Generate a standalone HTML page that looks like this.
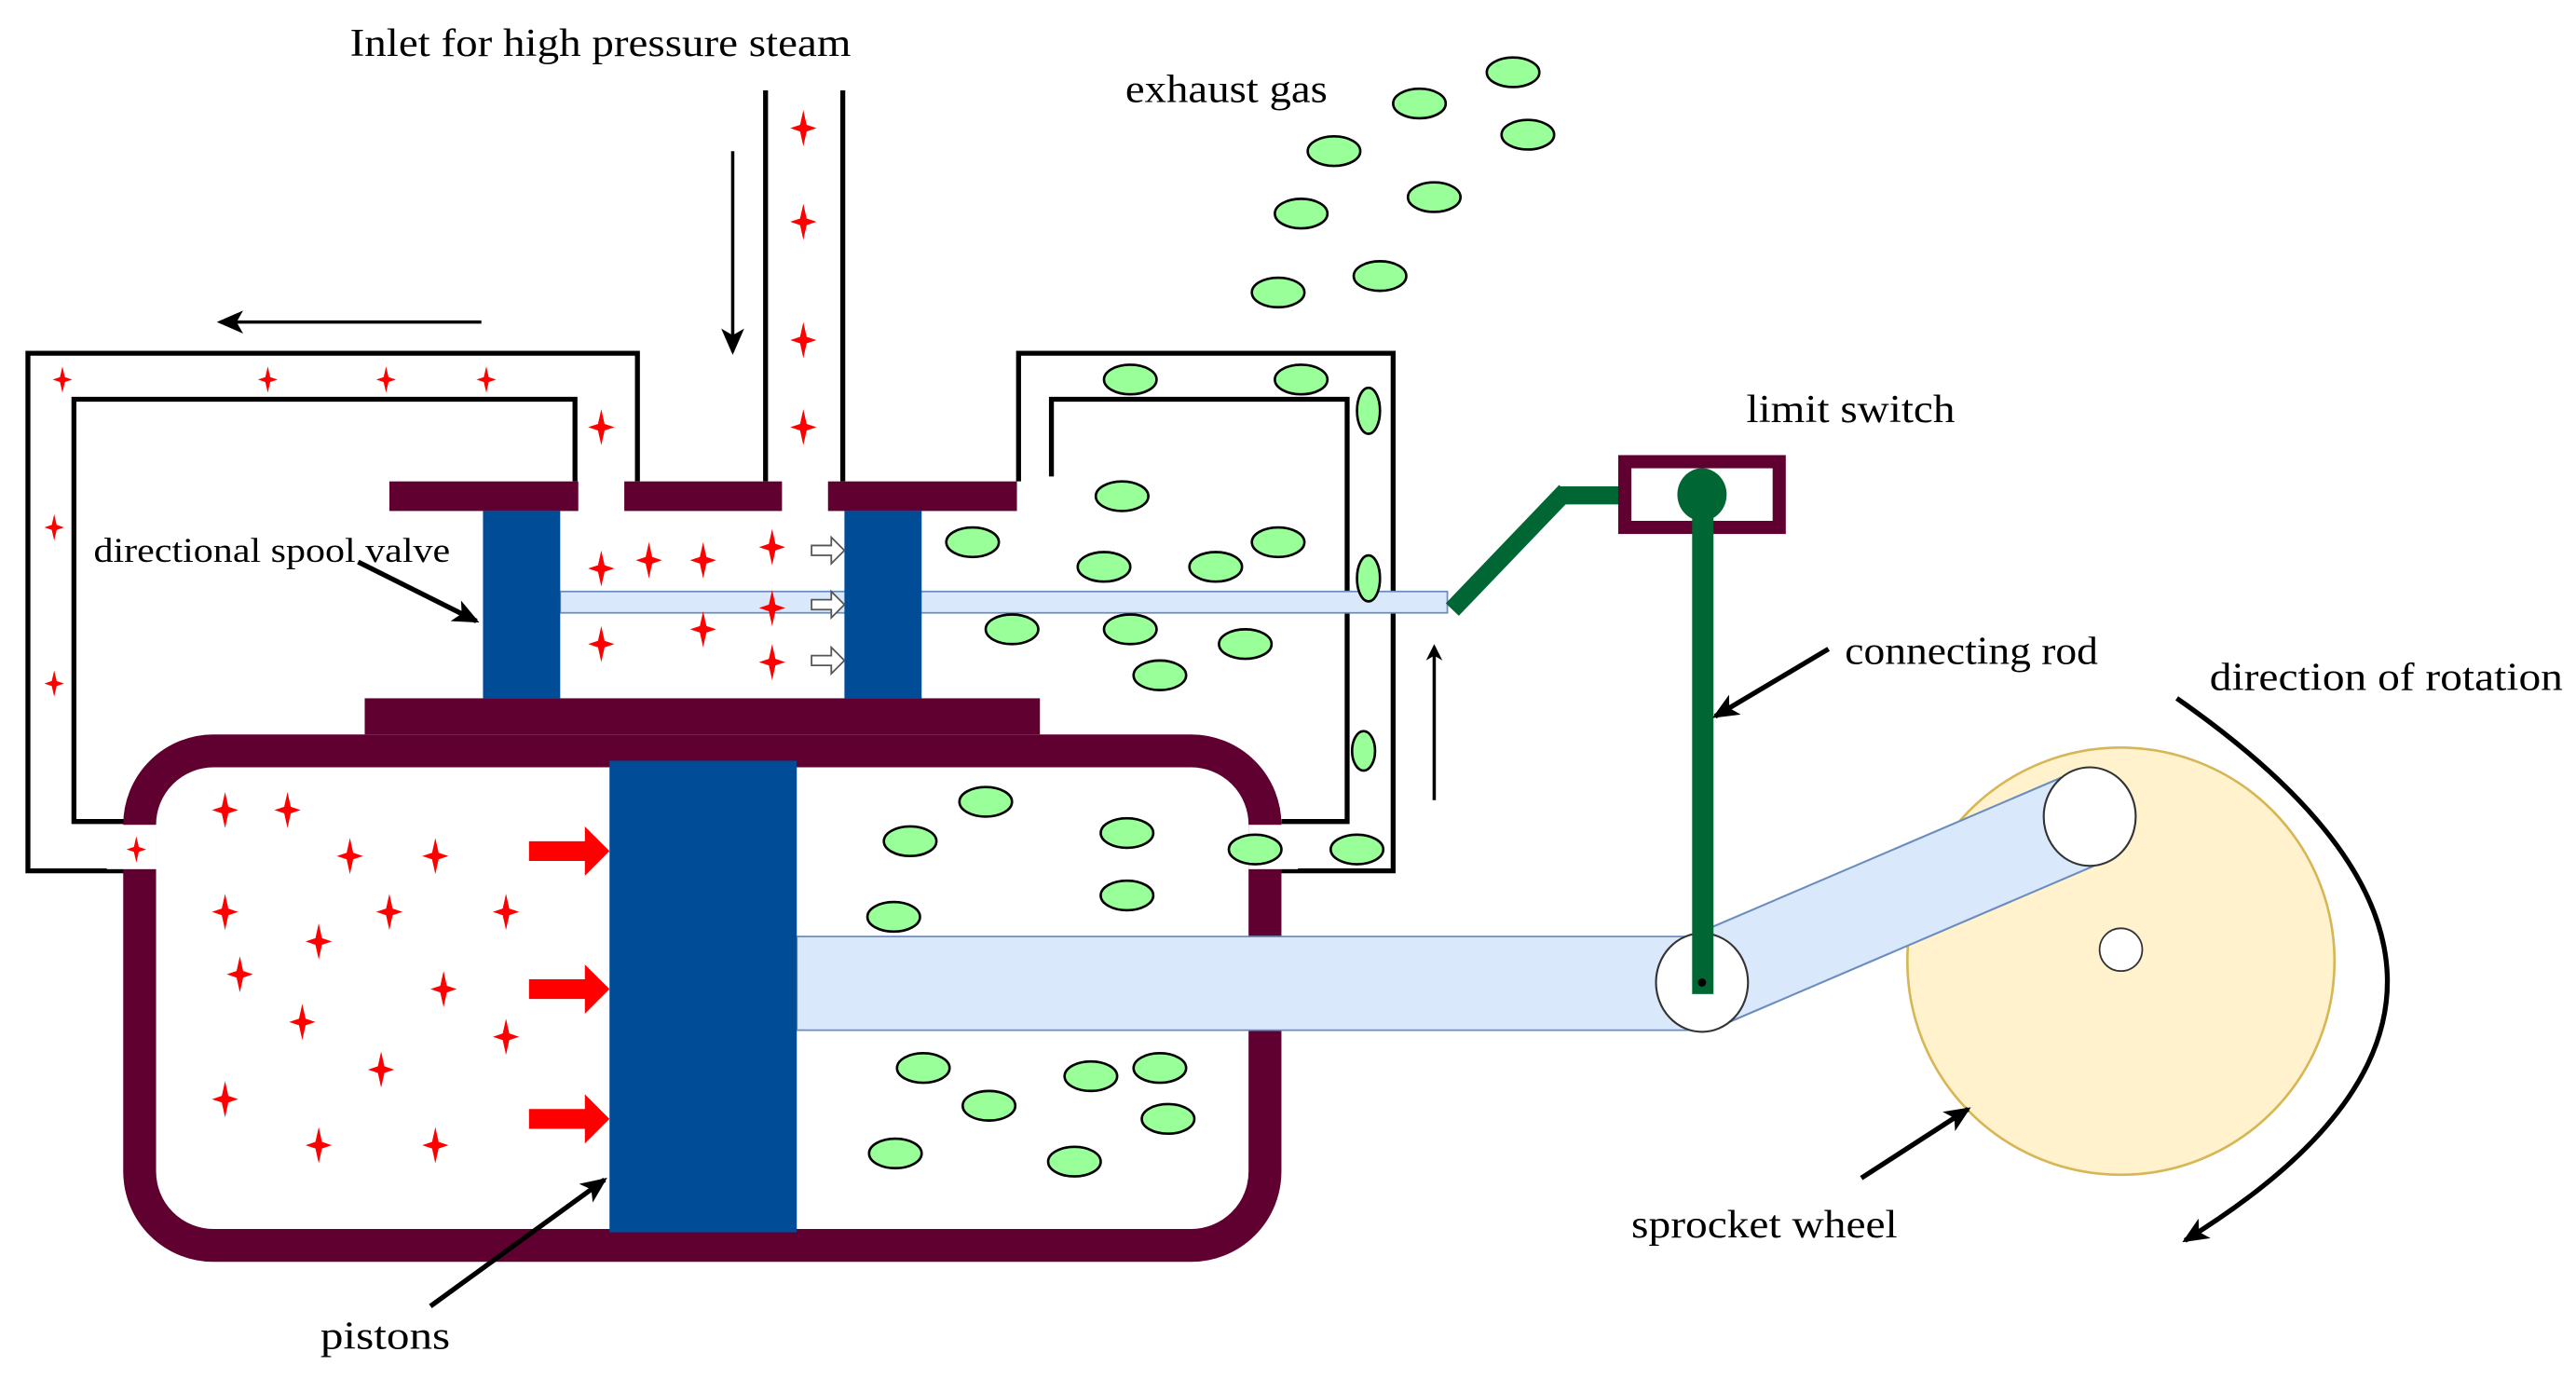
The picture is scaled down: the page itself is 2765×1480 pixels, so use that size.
<!DOCTYPE html>
<html><head><meta charset="utf-8"><style>
html,body{margin:0;padding:0;background:#fff}
svg{display:block}
text{font-family:"Liberation Serif",serif;font-size:24px;fill:#000}
</style></head><body>
<svg width="2765" height="1480" viewBox="0 0 1568 839.3" preserveAspectRatio="none" xmlns="http://www.w3.org/2000/svg">
<defs>
<marker id="ah" markerWidth="10" markerHeight="10" refX="8" refY="5" orient="auto" markerUnits="userSpaceOnUse"><path d="M0,0 L10,5 L0,10 L3,5 Z" fill="#000"/></marker>
<marker id="ah2" markerWidth="16" markerHeight="14" refX="14" refY="7" orient="auto" markerUnits="userSpaceOnUse"><path d="M0,0 L16,7 L0,14 L4,7 Z" fill="#000"/></marker>
<g id="st"><path d="M0,-11 L2,-2 L8,0 L2,2 L0,11 L-2,2 L-8,0 L-2,-2 Z" fill="#ff0000"/></g>
<g id="sts"><path d="M0,-8 L1.5,-1.5 L6,0 L1.5,1.5 L0,8 L-1.5,1.5 L-6,0 L-1.5,-1.5 Z" fill="#ff0000"/></g>
</defs>
<!-- labels -->
<text x="213" y="34" textLength="305" lengthAdjust="spacingAndGlyphs">Inlet for high pressure steam</text>
<text x="685" y="62" textLength="123" lengthAdjust="spacingAndGlyphs">exhaust gas</text>
<text x="1063" y="257" textLength="127" lengthAdjust="spacingAndGlyphs">limit switch</text>
<text x="57" y="342" style="font-size:21px" textLength="217" lengthAdjust="spacingAndGlyphs">directional spool valve</text>
<text x="1123" y="404" textLength="154" lengthAdjust="spacingAndGlyphs">connecting rod</text>
<text x="1345" y="420" textLength="215" lengthAdjust="spacingAndGlyphs">direction of rotation</text>
<text x="993" y="753" textLength="162" lengthAdjust="spacingAndGlyphs">sprocket wheel</text>
<text x="195" y="821" textLength="79" lengthAdjust="spacingAndGlyphs">pistons</text>
<!-- pipes -->
<g stroke="#000" stroke-width="3" fill="none">
<line x1="466" y1="55" x2="466" y2="293"/><line x1="513" y1="55" x2="513" y2="293"/>
<polyline points="388,293 388,215 17,215 17,530 95,530"/>
<polyline points="350,293 350,243 45,243 45,500 95,500"/>
<polyline points="620,293 620,215 848,215 848,530 780,530"/>
<polyline points="640,290 640,243 820,243 820,500 780,500"/>
</g>
<g stroke="#000" stroke-width="2" fill="none">
<line x1="446" y1="92" x2="446" y2="214" marker-end="url(#ah2)"/>
<line x1="293" y1="196" x2="134" y2="196" marker-end="url(#ah2)"/>
<line x1="873" y1="487" x2="873" y2="394" marker-end="url(#ah)"/>
</g>
<!-- wheel -->
<circle cx="1291" cy="585" r="130" fill="#fff2cc" stroke="#d6b656" stroke-width="1.5"/>
<circle cx="1291" cy="578" r="13" fill="#fff" stroke="#333" stroke-width="1"/>
<!-- cylinder -->
<rect x="85" y="457" width="685" height="301" rx="45" fill="#fff" stroke="#600030" stroke-width="20"/>
<rect x="222" y="425" width="411" height="22" fill="#600030"/>
<rect x="237" y="293" width="115" height="18" fill="#600030"/>
<rect x="380" y="293" width="96" height="18" fill="#600030"/>
<rect x="504" y="293" width="115" height="18" fill="#600030"/>
<rect x="65" y="502" width="30" height="27" fill="#fff"/>
<rect x="760" y="502" width="30" height="27" fill="#fff"/>
<!-- valve rod -->
<rect x="341" y="360" width="540" height="13" fill="#dae8fc" stroke="#6c8ebf" stroke-width="1"/>
<rect x="294" y="311" width="47" height="114" fill="#004c97"/>
<rect x="514" y="311" width="47" height="114" fill="#004c97"/>
<!-- piston -->
<rect x="485" y="570" width="551" height="57" fill="#dae8fc" stroke="#6c8ebf" stroke-width="1"/>
<rect x="371" y="463" width="114" height="287" fill="#004c97"/>
<!-- crank -->
<polygon points="1024,572 1260,471 1284,523 1048,624" fill="#dae8fc" stroke="#6c8ebf" stroke-width="1.2"/>
<ellipse cx="1272" cy="497" rx="28" ry="30" fill="#fff" stroke="#333" stroke-width="1.2"/>
<ellipse cx="1036" cy="598" rx="28" ry="30" fill="#fff" stroke="#333" stroke-width="1.2"/>
<!-- linkage -->
<line x1="884" y1="371" x2="953" y2="299" stroke="#006633" stroke-width="11"/>
<rect x="950" y="296" width="40" height="11" fill="#006633"/>
<rect x="989" y="281" width="94" height="40" fill="none" stroke="#600030" stroke-width="8"/>
<rect x="1030" y="301" width="13" height="304" fill="#006633"/>
<ellipse cx="1036" cy="301" rx="15" ry="16" fill="#006633"/>
<circle cx="1036" cy="598" r="2.5" fill="#000"/>
<!-- pointer arrows -->
<g stroke="#000" stroke-width="3" fill="none">
<line x1="218" y1="342" x2="290" y2="378" marker-end="url(#ah2)"/>
<line x1="1113" y1="395" x2="1044" y2="436" marker-end="url(#ah2)"/>
<line x1="1133" y1="717" x2="1198" y2="675" marker-end="url(#ah2)"/>
<line x1="262" y1="795" x2="368" y2="718" marker-end="url(#ah2)"/>
<path d="M1325,425 C1490,540 1500,650 1330,755" marker-end="url(#ah2)"/>
</g>
<!-- red arrows -->
<g fill="#ff0000">
<path d="M322,512 H356 V503 L371,518 L356,533 V524 H322 Z"/>
<path d="M322,596 H356 V587 L371,602 L356,617 V608 H322 Z"/>
<path d="M322,675 H356 V666 L371,681 L356,696 V687 H322 Z"/>
</g>
<g fill="#fff" stroke="#555" stroke-width="1">
<path d="M494,332 H506 V327 L514,335 L506,343 V338 H494 Z"/>
<path d="M494,365 H506 V360 L514,368 L506,376 V371 H494 Z"/>
<path d="M494,399 H506 V394 L514,402 L506,410 V405 H494 Z"/>
</g>
<!-- stars -->
<use href="#st" x="489" y="78"/><use href="#st" x="489" y="135"/><use href="#st" x="489" y="207"/><use href="#st" x="489" y="260"/>
<use href="#sts" x="38" y="231"/><use href="#sts" x="163" y="231"/><use href="#sts" x="235" y="231"/><use href="#sts" x="296" y="231"/>
<use href="#st" x="366" y="260"/><use href="#sts" x="33" y="321"/><use href="#sts" x="33" y="416"/><use href="#sts" x="83" y="517"/>
<use href="#st" x="366" y="346"/><use href="#st" x="395" y="341"/><use href="#st" x="428" y="341"/><use href="#st" x="470" y="333"/>
<use href="#st" x="470" y="370"/><use href="#st" x="428" y="383"/><use href="#st" x="366" y="392"/><use href="#st" x="470" y="403"/>
<use href="#st" x="137" y="493"/><use href="#st" x="175" y="493"/><use href="#st" x="213" y="521"/><use href="#st" x="265" y="521"/>
<use href="#st" x="137" y="555"/><use href="#st" x="237" y="555"/><use href="#st" x="308" y="555"/><use href="#st" x="194" y="573"/>
<use href="#st" x="146" y="593"/><use href="#st" x="270" y="602"/><use href="#st" x="184" y="622"/><use href="#st" x="308" y="631"/>
<use href="#st" x="232" y="651"/><use href="#st" x="137" y="669"/><use href="#st" x="194" y="697"/><use href="#st" x="265" y="697"/>
<!-- green ellipses -->
<g fill="#99ff99" stroke="#000" stroke-width="1.5">
<ellipse cx="921" cy="44" rx="16" ry="9"/><ellipse cx="864" cy="63" rx="16" ry="9"/><ellipse cx="930" cy="82" rx="16" ry="9"/>
<ellipse cx="812" cy="92" rx="16" ry="9"/><ellipse cx="873" cy="120" rx="16" ry="9"/><ellipse cx="792" cy="130" rx="16" ry="9"/>
<ellipse cx="840" cy="168" rx="16" ry="9"/><ellipse cx="778" cy="178" rx="16" ry="9"/>
<ellipse cx="688" cy="231" rx="16" ry="9"/><ellipse cx="792" cy="231" rx="16" ry="9"/><ellipse cx="833" cy="250" rx="7" ry="14"/>
<ellipse cx="683" cy="302" rx="16" ry="9"/><ellipse cx="592" cy="330" rx="16" ry="9"/><ellipse cx="778" cy="330" rx="16" ry="9"/>
<ellipse cx="672" cy="345" rx="16" ry="9"/><ellipse cx="740" cy="345" rx="16" ry="9"/><ellipse cx="833" cy="352" rx="7" ry="14"/>
<ellipse cx="616" cy="383" rx="16" ry="9"/><ellipse cx="688" cy="383" rx="16" ry="9"/><ellipse cx="758" cy="392" rx="16" ry="9"/>
<ellipse cx="706" cy="411" rx="16" ry="9"/><ellipse cx="830" cy="457" rx="7" ry="12"/>
<ellipse cx="600" cy="488" rx="16" ry="9"/><ellipse cx="554" cy="512" rx="16" ry="9"/><ellipse cx="686" cy="507" rx="16" ry="9"/>
<ellipse cx="764" cy="517" rx="16" ry="9"/><ellipse cx="826" cy="517" rx="16" ry="9"/><ellipse cx="544" cy="558" rx="16" ry="9"/>
<ellipse cx="686" cy="545" rx="16" ry="9"/><ellipse cx="562" cy="650" rx="16" ry="9"/><ellipse cx="602" cy="673" rx="16" ry="9"/>
<ellipse cx="664" cy="655" rx="16" ry="9"/><ellipse cx="706" cy="650" rx="16" ry="9"/><ellipse cx="711" cy="681" rx="16" ry="9"/>
<ellipse cx="545" cy="702" rx="16" ry="9"/><ellipse cx="654" cy="707" rx="16" ry="9"/>
</g>
</svg>
</body></html>
